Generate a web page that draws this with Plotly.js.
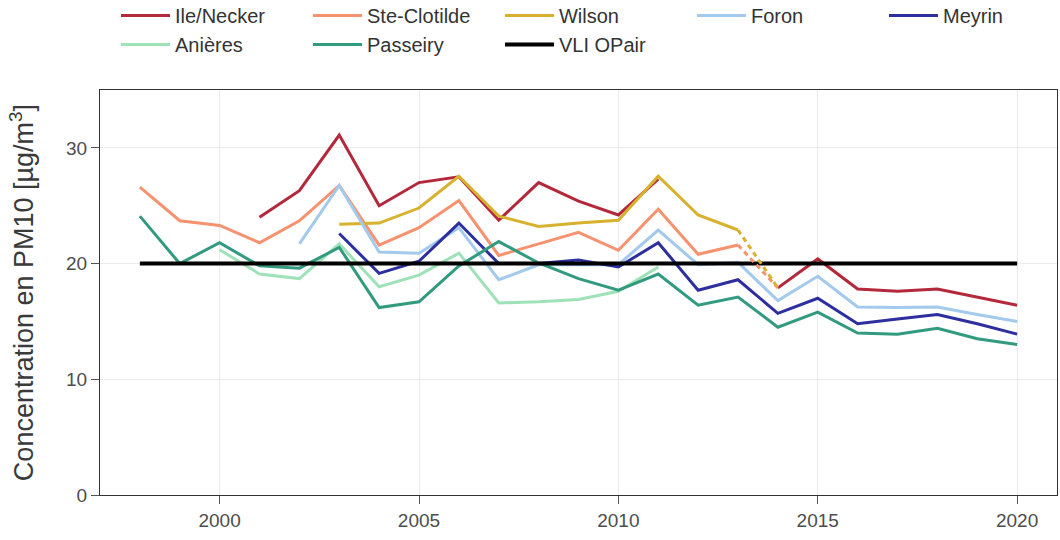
<!DOCTYPE html>
<html>
<head>
<meta charset="utf-8">
<script src="https://cdn.plot.ly/plotly-3.0.1.min.js"></script>
<style>html,body{margin:0;padding:0;background:#fff;}#chart{width:1060px;height:540px;}</style>
</head>
<body>
<div id="chart"></div>
<script>
const years = [1998,1999,2000,2001,2002,2003,2004,2005,2006,2007,2008,2009,2010,2011,2012,2013,2014,2015,2016,2017,2018,2019,2020];
const ileNecker   = [null,null,null,24.0,26.3,31.1,25.0,27.0,27.5,23.75,27.0,25.4,24.2,27.3,null,null,17.9,20.4,17.8,17.6,17.8,17.1,16.4];
const steClotilde = [26.6,23.7,23.3,21.8,23.7,26.75,21.6,23.1,25.45,20.7,21.7,22.7,21.15,24.7,20.8,21.6,null,null,null,null,null,null,null];
const wilson      = [null,null,null,null,null,23.4,23.5,24.8,27.55,24.1,23.2,23.5,23.75,27.55,24.2,22.9,null,null,null,null,null,null,null];
const foron       = [null,null,null,null,21.7,26.75,21.0,20.9,23.1,18.6,19.9,19.9,19.9,22.9,19.9,20.1,16.8,18.9,16.25,16.2,16.25,15.6,15.0];
const meyrin      = [null,null,null,null,null,22.6,19.15,20.2,23.5,20.0,20.0,20.3,19.7,21.8,17.7,18.6,15.7,17.0,14.8,15.2,15.6,14.8,13.9];
const anieres     = [null,null,21.2,19.1,18.7,21.7,18.0,19.0,20.9,16.6,16.7,16.9,17.6,19.7,null,null,null,null,null,null,null,null,null];
const passeiry    = [24.1,20.0,21.8,19.8,19.6,21.4,16.2,16.7,19.8,21.9,20.05,18.7,17.7,19.1,16.4,17.1,14.5,15.8,14.0,13.9,14.4,13.5,13.0];
const vli         = [20,20,20,20,20,20,20,20,20,20,20,20,20,20,20,20,20,20,20,20,20,20,20];

const names = ['Ile/Necker','Ste-Clotilde','Wilson','Foron','Meyrin','Anières','Passeiry','VLI OPair'];
const colors = ['#b3283a','#f7926f','#d8b12f','#a3caec','#2e2f9f','#9fe2b8','#329a7f','#000000'];
const series = [ileNecker, steClotilde, wilson, foron, meyrin, anieres, passeiry, vli];

const traces = [];
series.forEach((s, i) => {
  traces.push({
    x: years, y: s, name: names[i], type: 'scatter', mode: 'lines',
    line: {color: colors[i], width: i === 7 ? 4 : 3},
    connectgaps: false
  });
});

// dotted links from last Wilson / Ste-Clotilde value to the first later Ile/Necker value
function lastIdx(arr){ let k=-1; arr.forEach((v,j)=>{ if(v!==null) k=j; }); return k; }
const link = ileNecker.findIndex((v,j)=> v!==null && j>lastIdx(wilson));
[[steClotilde,1],[wilson,2]].forEach(([arr,ci]) => {
  const a = lastIdx(arr);
  traces.push({
    x: [years[a], years[link]], y: [arr[a], ileNecker[link]],
    type: 'scatter', mode: 'lines', showlegend: false, hoverinfo: 'skip',
    line: {color: colors[ci], width: 3, dash: '5px,4px'}
  });
});

const tickFont = {family: 'Liberation Sans, Arial, sans-serif', size: 19, color: '#4d4d4d'};

const layout = {
  width: 1060, height: 540,
  margin: {l: 100, r: 3, t: 90, b: 45, autoexpand: false},
  paper_bgcolor: '#ffffff', plot_bgcolor: '#ffffff',
  font: {family: 'Liberation Sans, Arial, sans-serif', color: '#4d4d4d', size: 17},
  showlegend: true,
  legend: {
    orientation: 'h', x: 0.0167, xanchor: 'left', y: 1.232, yanchor: 'top',
    entrywidth: 128, entrywidthmode: 'pixels', itemwidth: 49,
    font: {family: 'Liberation Sans, Arial, sans-serif', size: 20, color: '#333333'}, traceorder: 'normal'
  },
  xaxis: {
    range: [1997, 2021], tickvals: [2000,2005,2010,2015,2020],
    showgrid: true, gridcolor: '#ebebeb', gridwidth: 1,
    zeroline: false, showline: true, linecolor: '#333333', linewidth: 1, mirror: true,
    ticks: 'outside', ticklen: 8, tickcolor: '#555555',
    tickfont: tickFont
  },
  yaxis: {
    range: [0, 35], tickvals: [0,10,20,30],
    showgrid: true, gridcolor: '#ebebeb', gridwidth: 1,
    zeroline: false, showline: true, linecolor: '#333333', linewidth: 1, mirror: true,
    ticks: 'outside', ticklen: 8, tickcolor: '#555555',
    tickfont: tickFont,
    title: {text: 'Concentration en PM10 [µg/m<sup>3</sup>]', font: {family: 'Liberation Sans, Arial, sans-serif', size: 27, color: '#3a3a3a'}, standoff: 24}
  }
};

Plotly.newPlot('chart', traces, layout, {displayModeBar: false, staticPlot: true});
</script>
</body>
</html>
